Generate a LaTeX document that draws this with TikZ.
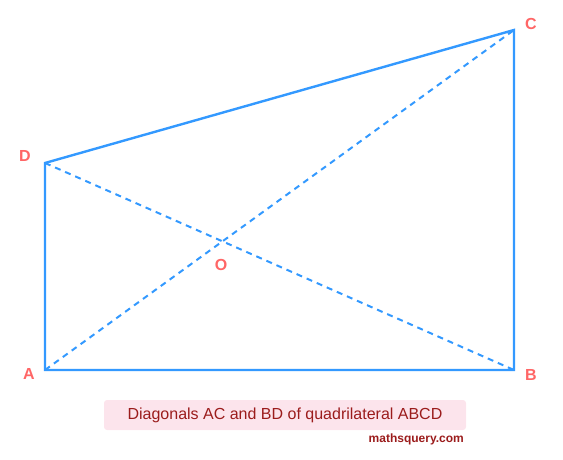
\documentclass[tikz,border=0pt]{standalone}
\usepackage{fontspec}
\setmainfont{Liberation Sans}
\definecolor{edge}{HTML}{3399FF}
\definecolor{lbl}{HTML}{FF6666}
\definecolor{capfill}{HTML}{FCE4EC}
\definecolor{captext}{HTML}{9B1C1C}
\begin{document}
\begin{tikzpicture}[x=1pt,y=-1pt,
  side/.style={draw=edge,line width=2.4pt,line join=miter},
  diag/.style={draw=edge,line width=2pt,dash pattern=on 6pt off 5pt},
  ptlabel/.style={text=lbl,font=\fontsize{16}{16}\selectfont\bfseries,inner sep=0pt}]
\useasboundingbox (0,0) rectangle (563,460);
\coordinate (A) at (45,370);
\coordinate (B) at (514,370);
\coordinate (C) at (514,30);
\coordinate (D) at (45,163);
\draw[side] (A) -- (B) -- (C) -- (D) -- cycle;
\draw[diag] (A) -- (C);
\draw[diag] (D) -- (B);
\node[ptlabel] (la) at (29,374) {A};
\node[ptlabel] (lb) at (531,375) {B};
\node[ptlabel] (lc) at (531,24) {C};
\node[ptlabel] (ld) at (25,156) {D};
\node[ptlabel] (lo) at (221,265) {O};
\node[fill=capfill,rounded corners=3pt,minimum width=362pt,minimum height=30pt,text=captext,font=\fontsize{16}{16}\selectfont,inner sep=0pt] (cap) at (285,415) {Diagonals AC and BD of quadrilateral ABCD};
\node[anchor=east,text=captext,font=\fontsize{12}{12}\selectfont\bfseries,inner sep=0pt] (site) at (464,439) {mathsquery.com};
\end{tikzpicture}
\end{document}
